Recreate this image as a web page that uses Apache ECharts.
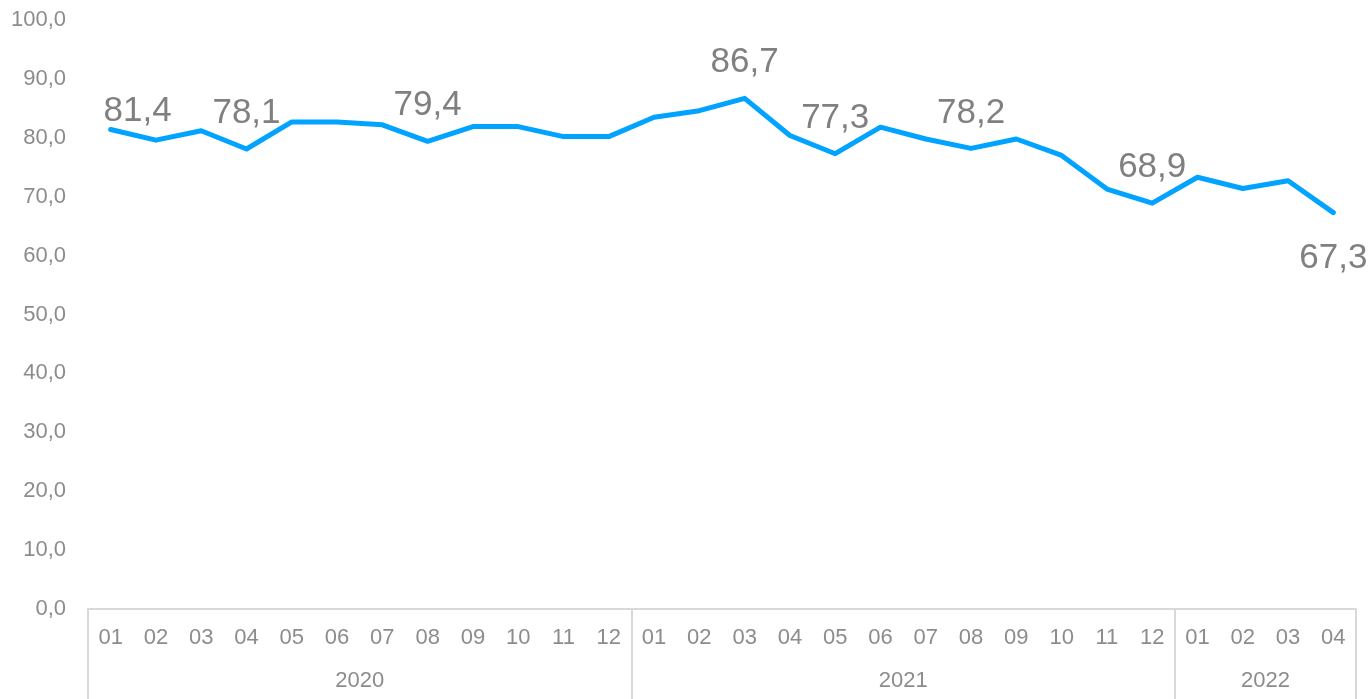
<!DOCTYPE html>
<html>
<head>
<meta charset="utf-8">
<script src="https://cdn.jsdelivr.net/npm/echarts@6/dist/echarts.min.js"></script>
<style>
html, body { margin: 0; padding: 0; background: #fff; }
#chart { width: 1369px; height: 699px; }
</style>
</head>
<body>
<div id="chart"></div>
<script>
let months = ['01','02','03','04','05','06','07','08','09','10','11','12',
              '01','02','03','04','05','06','07','08','09','10','11','12',
              '01','02','03','04']
let years = ['2020', '2021', '2022']
let yearCenters = [6, 18, 26]   // middle of each year group, in month units
let yearBounds = [0, 12, 24, 28]
let values = [81.4, 79.6, 81.2, 78.1, 82.7, 82.7, 82.2, 79.4, 81.9, 81.9, 80.2, 80.2,
              83.5, 84.6, 86.7, 80.4, 77.3, 81.8, 79.8, 78.2, 79.8, 77.0, 71.3, 68.9,
              73.3, 71.4, 72.7, 67.3]
let labelledTop = [0, 3, 7, 14, 16, 19, 23]
let labelledBottom = [27]

let font = 'Liberation Sans, Arial, sans-serif'
let fmt = (v) => Number(v).toFixed(1).replace('.', ',')

let seriesData = values.map((v, i) => {
    let item = { value: v }
    if (i === 0) item.label = { offset: [27, 17] }
    if (labelledBottom.includes(i)) item.label = { position: 'bottom', distance: 27 }
    return item
})

let mychart = echarts.init(document.getElementById('chart'))
let options = {
    animation: false,
    grid: { left: 88, right: 13, top: 20, bottom: 90, containLabel: false },
    xAxis: [
        {
            type: 'category',
            data: months,
            boundaryGap: true,
            axisLine: { show: true, lineStyle: { color: '#d9d9d9', width: 2 } },
            axisTick: { show: false },
            axisLabel: { color: '#8c8c8c', fontSize: 22, fontFamily: font, margin: 18, interval: 0 }
        },
        {
            type: 'value',
            position: 'bottom',
            min: 0,
            max: 28,
            axisLine: { show: false },
            splitLine: { show: false },
            axisTick: {
                show: true,
                customValues: yearBounds,
                length: 92,
                lineStyle: { color: '#d9d9d9', width: 2 }
            },
            axisLabel: {
                show: true,
                customValues: yearCenters,
                formatter: (v) => years[yearCenters.indexOf(v)] || '',
                color: '#8c8c8c', fontSize: 22, fontFamily: font, margin: 61
            }
        }
    ],
    yAxis: {
        type: 'value',
        min: 0,
        max: 100,
        interval: 10,
        axisLine: { show: false },
        axisTick: { show: false },
        splitLine: { show: false },
        axisLabel: { color: '#8c8c8c', fontSize: 22, fontFamily: font, margin: 22, formatter: fmt }
    },
    series: [
        {
            type: 'line',
            xAxisIndex: 0,
            data: seriesData,
            symbol: 'circle',
            symbolSize: 2,
            showSymbol: true,
            showAllSymbol: true,
            itemStyle: { color: '#00a3ff' },
            lineStyle: { color: '#00a3ff', width: 5, cap: 'round', join: 'round' },
            label: {
                show: true,
                position: 'top',
                distance: 17,
                color: '#808080',
                fontSize: 35,
                fontFamily: font,
                formatter: (p) => (labelledTop.includes(p.dataIndex) || labelledBottom.includes(p.dataIndex)) ? fmt(p.value) : ''
            }
        }
    ]
}
mychart.setOption(options)
window.addEventListener('resize', () => {
    mychart?.resize()
})
</script>
</body>
</html>
